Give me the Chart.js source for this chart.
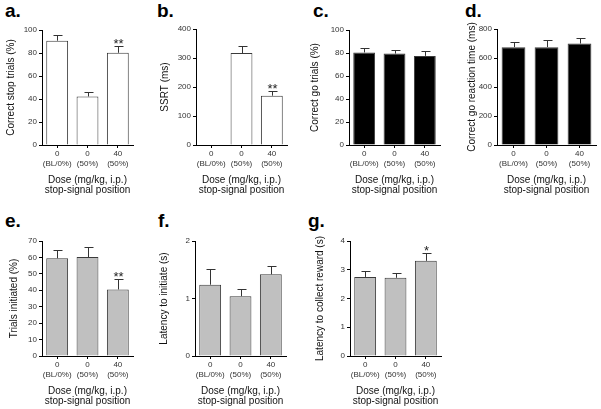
<!DOCTYPE html>
<html>
<head>
<meta charset="utf-8">
<script src="https://cdn.jsdelivr.net/npm/chart.js@4.4.1/dist/chart.umd.min.js"></script>
<style>
  body { margin:0; background:#fff; width:601px; height:409px; position:relative; overflow:hidden; font-family:'Liberation Sans', Arial, sans-serif; }
  .lbl { position:absolute; font-weight:bold; font-size:19px; line-height:19px; color:#000; }
  .pane { position:absolute; }
</style>
</head>
<body>
<script>
// categories (dose / stop-signal position)
const doseLabels = [['0','(BL/0%)'], ['0','(50%)'], ['40','(50%)']];

// a. correct stop trials (%)
const stopMean = [90.7, 42.2, 80.2];
const stopSem  = [5.0, 3.8, 6.2];
const stopSig  = ['', '', '**'];
// b. SSRT (ms) - no value at baseline
const ssrtMean = [null, 317, 170];
const ssrtSem  = [null, 24, 17];
const ssrtSig  = ['', '', '**'];
// c. correct go trials (%)
const goMean = [80.5, 79.5, 77.5];
const goSem  = [3.5, 3.5, 4.0];
// d. correct go reaction time (ms)
const rtMean = [675, 675, 700];
const rtSem  = [35, 50, 40];
// e. trials initiated (%)
const initMean = [59.5, 60.2, 40.5];
const initSem  = [5.0, 6.0, 6.3];
const initSig  = ['', '', '**'];
// f. latency to initiate (s)
const latMean = [1.24, 1.04, 1.42];
const latSem  = [0.27, 0.12, 0.14];
// g. latency to collect reward (s)
const rewMean = [2.75, 2.72, 3.31];
const rewSem  = [0.19, 0.15, 0.28];
const rewSig  = ['', '', '*'];

const xTitle = ['Dose (mg/kg, i.p.)', 'stop-signal position'];
const FONT = "'Liberation Sans', Arial, sans-serif";

const panels = [
  { tag:'a.', lx:5,   ly:1,   title:'Correct stop trials (%)', mean:stopMean, sem:stopSem, sig:stopSig, fill:'#ffffff', max:100, step:20, plot:[42,30,133,145], tx:11 },
  { tag:'b.', lx:157, ly:1,   title:'SSRT (ms)', mean:ssrtMean, sem:ssrtSem, sig:ssrtSig, fill:'#ffffff', max:400, step:100, plot:[196,29,287,145], tx:165 },
  { tag:'c.', lx:313, ly:1,   title:'Correct go trials (%)', mean:goMean, sem:goSem, sig:null, fill:'#000000', max:100, step:20, plot:[349,30,440,145], tx:315 },
  { tag:'d.', lx:465, ly:1,   title:'Correct go reaction time (ms)', mean:rtMean, sem:rtSem, sig:null, fill:'#000000', max:800, step:200, plot:[497,29,596,145], tx:472 },
  { tag:'e.', lx:5,   ly:211, title:'Trials initiated (%)', mean:initMean, sem:initSem, sig:initSig, fill:'#c0c0c0', max:70, step:10, plot:[42,241,133,356], tx:14 },
  { tag:'f.', lx:158, ly:211, title:'Latency to initiate (s)', mean:latMean, sem:latSem, sig:null, fill:'#c0c0c0', max:2, step:1, plot:[195,241,286,356], tx:164 },
  { tag:'g.', lx:308, ly:211, title:'Latency to collect reward (s)', mean:rewMean, sem:rewSem, sig:rewSig, fill:'#c0c0c0', max:4, step:1, plot:[350,241,441,356], tx:320 }
];

function errBars(p) {
  return {
    id: 'errBars',
    afterDatasetsDraw(chart) {
      const ctx = chart.ctx, y = chart.scales.y;
      chart.getDatasetMeta(0).data.forEach((bar, i) => {
        const m = p.mean[i];
        if (m == null) return;
        const top = Math.round(y.getPixelForValue(m + p.sem[i])) + 0.5;
        const x = Math.round(bar.x) + 0.5;
        ctx.save();
        ctx.strokeStyle = '#333'; ctx.lineWidth = 1;
        ctx.beginPath();
        ctx.moveTo(x, bar.y); ctx.lineTo(x, top);
        ctx.moveTo(x - 4, top); ctx.lineTo(x + 5, top);
        ctx.stroke();
        if (p.sig && p.sig[i]) {
          ctx.fillStyle = '#222';
          ctx.font = '13px ' + FONT;
          ctx.textAlign = 'center'; ctx.textBaseline = 'alphabetic';
          ctx.fillText(p.sig[i], x, top + 1);
        }
        ctx.restore();
      });
    }
  };
}

panels.forEach(p => {
  const [pl, pt, pr, pb] = p.plot;
  const left = p.tx - 6, top = pt < 200 ? 0 : 200;
  const w = pr + 4 - left, h = pb + 52 - top;

  const tag = document.createElement('div');
  tag.className = 'lbl'; tag.textContent = p.tag;
  tag.style.left = p.lx + 'px'; tag.style.top = p.ly + 'px';
  document.body.appendChild(tag);

  const box = document.createElement('div');
  box.className = 'pane';
  box.style.left = left + 'px'; box.style.top = top + 'px';
  box.style.width = w + 'px'; box.style.height = h + 'px';
  const cv = document.createElement('canvas');
  cv.width = w; cv.height = h;
  box.appendChild(cv);
  document.body.appendChild(box);

  new Chart(cv, {
    type: 'bar',
    data: {
      labels: doseLabels,
      datasets: [{ data: p.mean, backgroundColor: p.fill, borderColor: '#3a3a3a', borderWidth: 1,
                   barPercentage: 0.72, categoryPercentage: 1 }]
    },
    options: {
      responsive: false, animation: false, devicePixelRatio: 1,
      layout: { padding: { left: 0, top: pt - top, right: 4, bottom: 0 } },
      plugins: { legend: { display: false }, tooltip: { enabled: false } },
      scales: {
        x: {
          afterFit: s => { s.height = 52; },
          grid: { display: true, drawOnChartArea: false, offset: false, tickLength: 3, color: '#000' },
          border: { display: true, color: '#000', width: 1 },
          ticks: { padding: 1, color: '#333', font: { family: FONT, size: 8, lineHeight: 1.25 }, maxRotation: 0, autoSkip: false },
          title: { display: true, text: xTitle, color: '#111', padding: { top: 0, bottom: 2 },
                   font: { family: FONT, size: 10, lineHeight: 1.0 } }
        },
        y: {
          min: 0, max: p.max,
          afterFit: s => { s.width = pl - left; },
          grid: { display: true, drawOnChartArea: false, tickLength: 3, color: '#000' },
          border: { display: true, color: '#000', width: 1 },
          ticks: { stepSize: p.step, padding: 2, color: '#333', font: { family: FONT, size: 8 } },
          title: { display: true, text: p.title, color: '#111', padding: { top: 1, bottom: 0 },
                   font: { family: FONT, size: 10, lineHeight: 1.0 } }
        }
      }
    },
    plugins: [errBars(p)]
  });
});
</script>
</body>
</html>
